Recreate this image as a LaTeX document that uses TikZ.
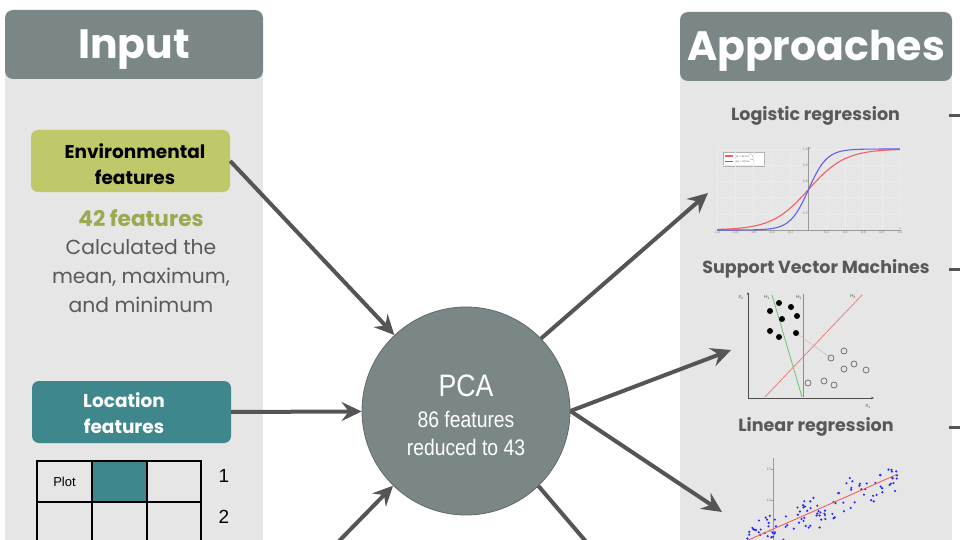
\documentclass[tikz,border=0pt]{standalone}
\usepackage{fontspec}
\setmainfont{Poppins}
\newfontfamily\arialfont{Liberation Sans}
\newfontfamily\pcafont[FakeStretch=0.86]{Liberation Sans}
\definecolor{headgray}{RGB}{123,135,135}
\definecolor{pcaedge}{RGB}{95,105,105}
\definecolor{panelgray}{RGB}{230,230,230}
\definecolor{envgreen}{RGB}{192,201,106}
\definecolor{olivetext}{RGB}{155,170,80}
\definecolor{locteal}{RGB}{62,135,140}
\definecolor{arrowgray}{RGB}{85,85,85}
\definecolor{textgray}{RGB}{89,89,89}
\definecolor{plotred}{RGB}{240,95,95}
\definecolor{plotblue}{RGB}{95,95,240}
\definecolor{svmgreen}{RGB}{110,195,110}
\definecolor{svmblue}{RGB}{90,150,225}
\definecolor{svmred}{RGB}{240,125,125}
\usetikzlibrary{arrows.meta,positioning}

\begin{document}
\begin{tikzpicture}[x=1pt,y=-1pt,
    header/.style={fill=headgray,rounded corners=8pt,text=white,inner sep=0pt,
                   text height=29pt,text depth=0pt,
                   font=\fontsize{41}{41}\selectfont\bfseries},
    featbox/.style={rounded corners=7pt,minimum width=199pt,minimum height=62pt,inner sep=0pt},
    flow/.style={draw=arrowgray,line width=4pt,-{Stealth[length=20pt,width=19pt,inset=7pt]}},
    stub/.style={draw=arrowgray,line width=3pt},
    method/.style={text=textgray,font=\fontsize{17.5}{17.5}\selectfont\bfseries},
    ticklbl/.style={text=gray,font=\arialfont\fontsize{3.4}{4}\selectfont,inner sep=0.6pt},
    axlbl/.style={text=black!70,font=\arialfont\fontsize{4.5}{5}\selectfont,inner sep=0pt}]
  \useasboundingbox (0,0) rectangle (960,540);
  \clip (0,0) rectangle (960,540);

  %% Input panel (left)
  \fill[panelgray] (5,40) rectangle (263,545);
  \node[header,minimum width=258pt,minimum height=69pt] (inhead) at (134,44.5) {Input};

  \node[featbox,fill=envgreen] (env) at (130.5,161) {};
  \node[align=center,font=\fontsize{18.5}{26}\selectfont\bfseries] at (135,164)
        {Environmental\\features};
  \node[text=olivetext,font=\fontsize{21.6}{21.6}\selectfont\bfseries] (envcount) at (141,218)
        {42 features};
  \node[text=textgray,align=center,font=\fontsize{20.3}{29}\selectfont] (envnote) at (141,276)
        {Calculated the\\mean, maximum,\\and minimum};

  \node[featbox,fill=locteal] (loc) at (131.5,412) {};
  \node[align=center,text=white,font=\fontsize{18.5}{26}\selectfont\bfseries] at (124,413)
        {Location\\features};

  %% Plot grid (below location box)
  \fill[locteal] (92,461) rectangle (147,502);
  \foreach \c/\w in {37/55,92/55,147/54}
    \foreach \r in {461,502}
      \draw[line width=1.5pt] (\c,\r) rectangle ++(\w,41);
  \node[font=\arialfont\fontsize{13}{13}\selectfont] (plotcell) at (64.5,481.5) {Plot};
  \node[font=\arialfont\fontsize{19}{19}\selectfont] (row1) at (224,476) {1};
  \node[font=\arialfont\fontsize{19}{19}\selectfont] (row2) at (224,517) {2};

  %% Approaches panel (right)
  \fill[panelgray] (680,40) rectangle (952,545);
  \node[header,minimum width=272pt,minimum height=69pt] (aphead) at (816,46.5) {Approaches};

  \node[method] (logit) at (815.5,116) {Logistic regression};
  \node[method] (svm) at (816,269) {Support Vector Machines};
  \node[method] (linreg) at (816,427) {Linear regression};

  \coordinate (logitout) at (949,116);
  \coordinate (svmout) at (949,269);
  \coordinate (linregout) at (949,427);
  \foreach \p in {logitout,svmout,linregout}
    \draw[stub] (\p) -- ++(30,0);

  %% PCA (centre)
  \node[circle,fill=headgray,draw=pcaedge,line width=0.8pt,minimum size=208pt,inner sep=0pt]
        (pca) at (466,411) {};
  \node[text=white,font=\pcafont\fontsize{31}{31}\selectfont] at (466,386) {PCA};
  \node[text=white,align=center,font=\pcafont\fontsize{22.5}{28}\selectfont] at (466,433)
        {86 features\\reduced to 43};

  %% Connectors into and out of PCA
  \coordinate (frombelow) at (303,578);
  \coordinate (tologit) at (708,193);
  \coordinate (tosvm) at (731,350);
  \coordinate (tolinreg) at (722,512);
  \coordinate (tobelow) at (636,600);
  \draw[flow] (env.east) -- (pca);
  \draw[flow] (loc.east) -- (pca);
  \draw[flow] (frombelow) -- (pca);
  \draw[flow] (pca.44) -- (tologit);
  \draw[flow] (pca.east) -- (tosvm);
  \draw[flow] (pca.east) -- (tolinreg);
  \draw[flow] (pca.-46) -- (tobelow);

  %% Logistic curve plot
  \draw[gray!60,fill=white,line width=0.4pt] (723,152) rectangle (764,166);
  \draw[plotred,line width=1.2pt] (725,156) -- (733,156);
  \draw[plotblue,line width=1.2pt] (725,161.5) -- (733,161.5);
  \node[ticklbl,anchor=west,text=black!70,font=\arialfont\fontsize{2.6}{3}\selectfont] at (734,156)
        {f(x) = 1/(1+e\textsuperscript{-5x})};
  \node[ticklbl,anchor=west,text=black!70,font=\arialfont\fontsize{2.6}{3}\selectfont] at (734,161.5)
        {g(x) = 1/(1+e\textsuperscript{-10x})};
  \begin{scope}[shift={(808.5,230)},x=91.5pt,y=81pt]
    \foreach \t in {-1,-0.8,-0.6,-0.4,-0.2,0.2,0.4,0.6,0.8,1}
      \draw[gray!15,line width=0.3pt] (\t,0) -- (\t,1);
    \foreach \t in {0.2,0.4,0.6,0.8,1}
      \draw[gray!15,line width=0.3pt] (-1,\t) -- (1,\t);
    \draw[gray!80,line width=0.5pt] (-1,0) -- (1.01,0);
    \draw[gray!80,line width=0.5pt] (0,0) -- (0,1.02);
    \draw[plotred,line width=1.1pt,domain=-1:1,samples=60] plot (\x,{1/(1+exp(-5*\x))});
    \draw[plotblue,line width=1.1pt] (-1,0)
      -- plot[domain=-0.9:1,samples=70] (\x,{1/(1+exp(-10*\x))});
    \foreach \t/\l in {-1/-1.0,-0.8/-0.8,-0.6/-0.6,-0.4/-0.4,-0.2/-0.2,
                       0.2/0.2,0.4/0.4,0.6/0.6,0.8/0.8,1/1.0}
      \node[ticklbl,below] at (\t,0) {\l};
    \foreach \t in {0.2,0.6,0.8,1.0}
      \node[ticklbl,left] at (0,\t) {\t};
    \node[ticklbl,right] at (0,1) {y};
    \node[ticklbl,above] at (1,0) {x};
  \end{scope}

  %% Support vector machine plot
  \draw[black!70,line width=0.8pt,-{Stealth[length=3pt,width=2.5pt]}] (748,398) -- (748,292);
  \draw[black!70,line width=0.8pt,-{Stealth[length=3pt,width=2.5pt]}] (748,398) -- (874,398);
  \node[axlbl] at (741,297) {X\textsubscript{2}};
  \node[axlbl] at (868,406) {X\textsubscript{1}};
  \node[axlbl] at (767,297) {H\textsubscript{1}};
  \node[axlbl] at (799,297) {H\textsubscript{2}};
  \node[axlbl] at (853,296) {H\textsubscript{3}};
  \draw[svmgreen,line width=0.8pt] (772,295) -- (802,397);
  \draw[svmblue,line width=0.8pt] (803,294) -- (803,397);
  \draw[svmred,line width=0.8pt] (765,397) -- (862,295);
  \draw[gray!50,line width=0.5pt] (796,333) -- (831,358);
  \foreach \px/\py in {770/311,779/303,791/307,782/319,797/316,770/331,779/337,796/333}
    \fill[black] (\px,\py) circle[radius=3pt];
  \foreach \px/\py in {831/358,844/351,844/369,854/364,866/370,808/383,824/381,834/385}
    \draw[black!60,line width=0.7pt] (\px,\py) circle[radius=3pt];

  %% Linear regression plot
  \begin{scope}[shift={(773,562)},x=26pt,y=6.2pt]
    \draw[gray!80,line width=0.5pt] (0,0) -- (0,16.8);
    \foreach \t in {5,10,15}{
      \draw[gray!80,line width=0.4pt] (-0.06,\t) -- (0,\t);
      \node[ticklbl,left] at (-0.06,\t) {\t};
    }
    \pgfmathsetseed{42}
    \foreach \i in {1,...,120}{
      \pgfmathsetmacro\xx{-1.45+6.25*rnd}
      \pgfmathsetmacro\yy{5.3+1.85*\xx+1.6*(rand+rand)}
      \fill[blue!85] (\xx,\yy) circle[radius=1.2pt];
    }
    \draw[plotred,line width=0.9pt] (-1.45,2.62) -- (4.8,14.18);
  \end{scope}
\end{tikzpicture}
\end{document}
